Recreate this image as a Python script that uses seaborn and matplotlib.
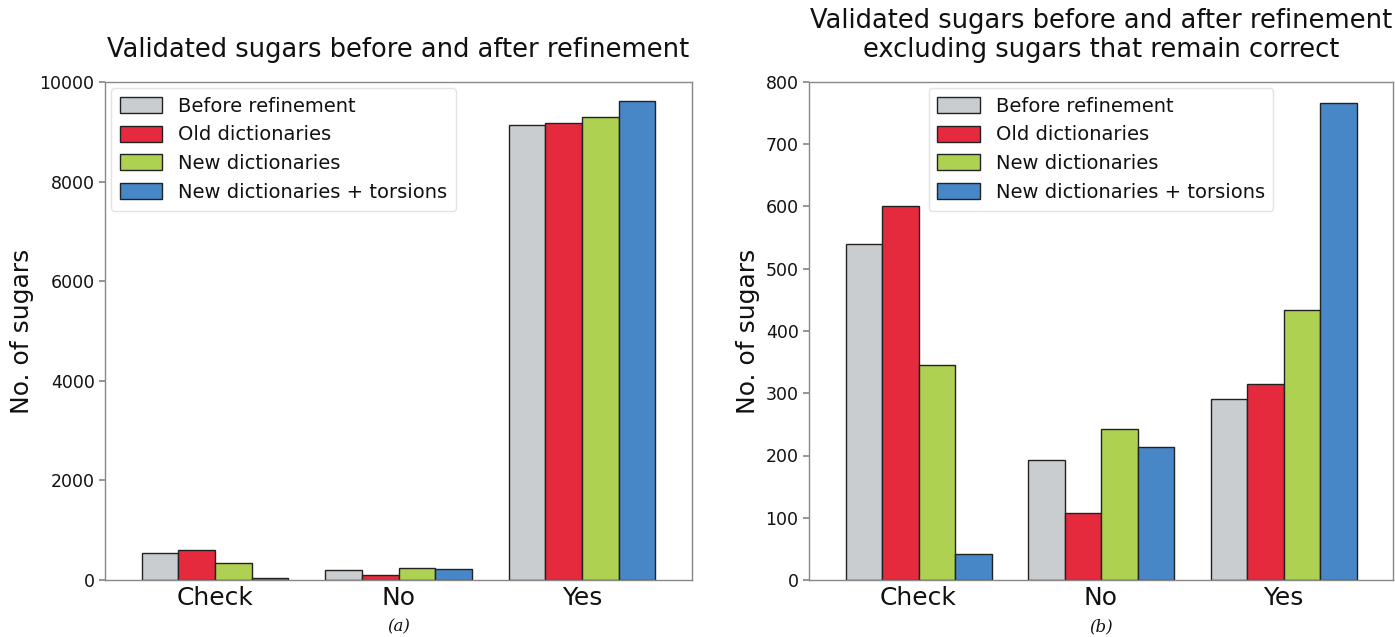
import matplotlib
matplotlib.use("Agg")
import matplotlib.pyplot as plt
import seaborn as sns
import pandas as pd

categories = ["Check", "No", "Yes"]
series = ["Before refinement", "Old dictionaries", "New dictionaries",
          "New dictionaries + torsions"]
colors = ["#c9cdd0", "#e52a3e", "#afd151", "#4787c7"]

# Panel (a): all sugars
a_before = [540, 193, 9140]
a_old = [601, 107, 9170]
a_new = [346, 243, 9290]
a_tors = [42, 213, 9620]

# Panel (b): excluding sugars that remain correct
b_before = [540, 193, 290]
b_old = [601, 107, 315]
b_new = [346, 243, 434]
b_tors = [42, 213, 766]

def long_df(cols):
    rows = []
    for s, vals in zip(series, cols):
        for c, v in zip(categories, vals):
            rows.append({"cat": c, "series": s, "value": v})
    return pd.DataFrame(rows)

df_a = long_df([a_before, a_old, a_new, a_tors])
df_b = long_df([b_before, b_old, b_new, b_tors])

sns.set_theme(style="ticks")
plt.rcParams['font.family'] = ['DejaVu Sans']
plt.rcParams['text.color'] = '#111111'
plt.rcParams['axes.labelcolor'] = '#111111'
plt.rcParams['xtick.color'] = '#111111'
plt.rcParams['ytick.color'] = '#111111'

fig = plt.figure(figsize=(13.95, 6.37), dpi=100)
ax1 = fig.add_axes([105/1395, 1-580/637, (692-105)/1395, (580-82)/637])
ax2 = fig.add_axes([809/1395, 1-580/637, (1393-809)/1395, (580-82)/637])

for ax, df, ymax, yt, title, loc, cap in [
        (ax1, df_a, 10000, range(0, 10001, 2000),
         "Validated sugars before and after refinement", "upper left", "(a)"),
        (ax2, df_b, 800, range(0, 801, 100),
         "Validated sugars before and after refinement\nexcluding sugars that remain correct",
         "upper center", "(b)")]:
    sns.barplot(data=df, x="cat", y="value", hue="series", hue_order=series,
                order=categories, palette=colors, saturation=1, width=0.8,
                edgecolor="#222222", linewidth=1.0, ax=ax)
    ax.set_ylim(0, ymax)
    ax.set_xlim(-0.6, 2.6)
    ax.set_yticks(list(yt))
    ax.tick_params(axis="y", labelsize=12.5, length=4, color="#888888")
    ax.tick_params(axis="x", labelsize=18, length=0, pad=4)
    ax.set_xlabel("")
    ax.set_ylabel("No. of sugars", fontsize=18)
    ax.set_title(title, fontsize=18.5, pad=18, linespacing=1.15)
    for sp in ax.spines.values():
        sp.set_color("#888888")
        sp.set_linewidth(1.0)
    leg = ax.legend(loc=loc, fontsize=14, frameon=True, handlelength=2.2,
                    handleheight=0.9, borderpad=0.45, labelspacing=0.5,
                    handletextpad=0.8, borderaxespad=0.3)
    leg.get_frame().set_edgecolor("#dddddd")
    pos = ax.get_position()
    fig.text((pos.x0 + pos.x1) / 2, 0.002, cap, ha="center", va="bottom",
             fontsize=12, family="DejaVu Serif", style="italic")

fig.savefig("out.png", dpi=100)
